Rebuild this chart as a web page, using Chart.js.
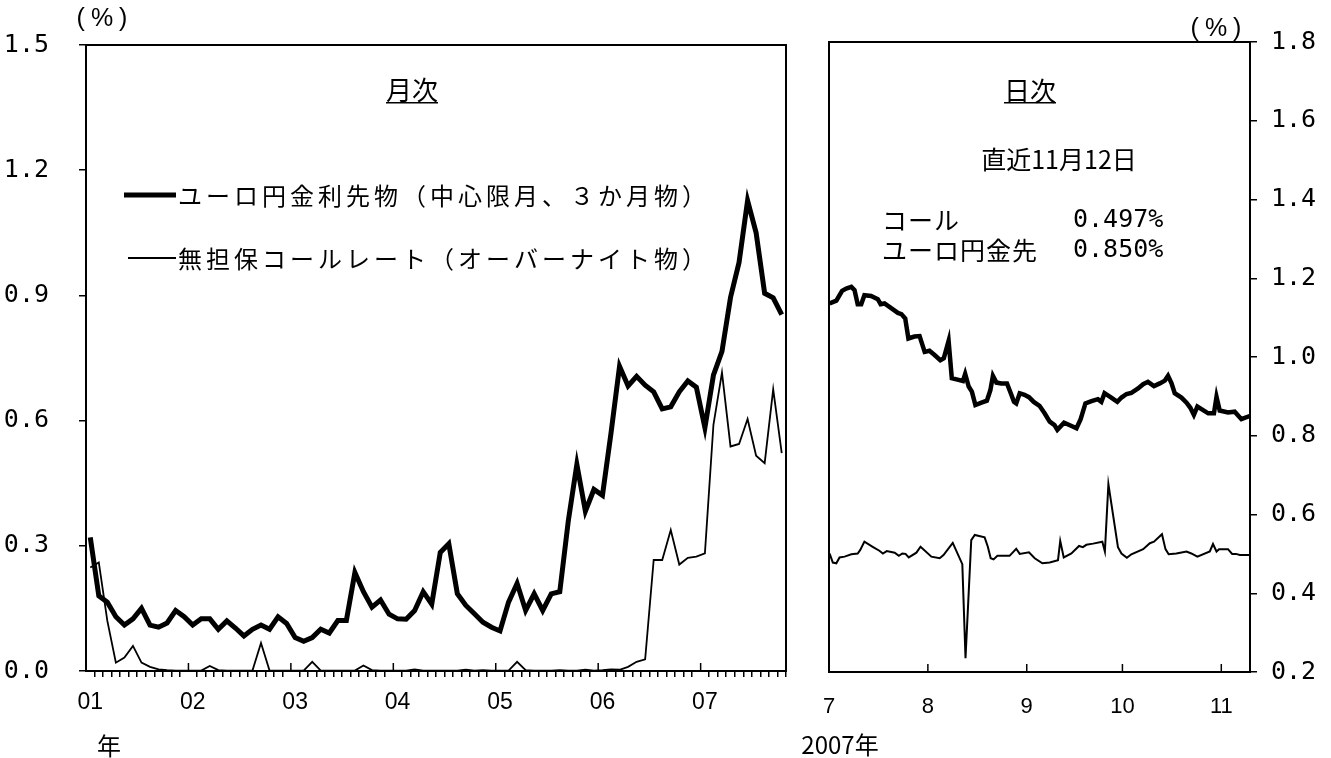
<!DOCTYPE html>
<html>
<head>
<meta charset="utf-8">
<script src="https://cdn.jsdelivr.net/npm/chart.js@4.4.1/dist/chart.umd.min.js"></script>
<style>
  html, body { margin: 0; padding: 0; background: #fff; }
  #wrap { position: relative; width: 1331px; height: 758px; }
  #left { position: absolute; left: 0; top: 0; }
  #right { position: absolute; left: 790px; top: 0; }
</style>
</head>
<body>
<div id="wrap">
  <canvas id="left" width="810" height="758"></canvas>
  <canvas id="right" width="541" height="758"></canvas>
</div>
<script>
// 月次（2001年1月～2007年10月）
const yearLabels = ['01', '02', '03', '04', '05', '06', '07'];
const euroyenMonthly = [
  0.32, 0.18, 0.165, 0.13, 0.11, 0.125, 0.15, 0.11, 0.105, 0.115, 0.145, 0.13,
  0.11, 0.125, 0.125, 0.10, 0.12, 0.103, 0.084, 0.10, 0.11, 0.10, 0.13, 0.114,
  0.08, 0.071, 0.08, 0.10, 0.091, 0.121, 0.121, 0.236, 0.19, 0.153, 0.17, 0.136,
  0.125, 0.124, 0.145, 0.19, 0.16, 0.284, 0.305, 0.185, 0.157, 0.137, 0.117, 0.105,
  0.096, 0.165, 0.21, 0.145, 0.185, 0.145, 0.185, 0.19, 0.36, 0.495, 0.383, 0.435,
  0.421, 0.57, 0.73, 0.683, 0.706, 0.685, 0.669, 0.628, 0.633, 0.669, 0.695, 0.68,
  0.583, 0.709, 0.766, 0.895, 0.979, 1.127, 1.05, 0.905, 0.894, 0.854
];
const callMonthly = [
  0.248, 0.26, 0.12, 0.02, 0.032, 0.06, 0.02, 0.01, 0.004, 0.002, 0.001, 0.001,
  0.001, 0.001, 0.012, 0.002, 0.001, 0.001, 0.001, 0.001, 0.067, 0.001, 0.001, 0.001,
  0.001, 0.001, 0.022, 0.001, 0.001, 0.001, 0.001, 0.001, 0.013, 0.002, 0.001, 0.001,
  0.001, 0.001, 0.004, 0.001, 0.001, 0.001, 0.001, 0.001, 0.003, 0.001, 0.002, 0.001,
  0.001, 0.001, 0.022, 0.002, 0.001, 0.001, 0.001, 0.002, 0.001, 0.001, 0.003, 0.001,
  0.002, 0.004, 0.003, 0.010, 0.022, 0.028, 0.266, 0.266, 0.338, 0.255, 0.271, 0.274,
  0.282, 0.59, 0.715, 0.538, 0.544, 0.604, 0.516, 0.498, 0.675, 0.522
];
const leftTicks = [0, 0.3, 0.6, 0.9, 1.2, 1.5];

// 日次（2007年7月～11月12日）：7月1日からの日数
const futDay = [0.2, 2.3, 4.1, 5.4, 7.0, 8.0, 9.0, 10.1, 11.1, 13.2, 15.3, 16.2, 17.4, 19.5, 21.6,
  22.7, 23.9, 24.9, 26.8, 28.4, 30.0, 31.5, 33.1, 34.9, 36.0, 37.5, 38.5, 40.6, 42.0, 42.7,
  43.8, 44.8, 45.9, 47.8, 49.5, 50.6, 51.4, 52.5, 54.0, 55.8, 57.0, 58.0, 58.7, 59.8, 61.3,
  62.7, 64.2, 66.0, 67.6, 69.2, 70.7, 71.6, 73.7, 75.7, 77.6, 78.9, 80.4, 82.3, 84.3, 85.4,
  86.4, 88.5, 90.4, 91.7, 93.3, 94.8, 96.9, 98.5, 100.0, 101.9, 103.7, 105.3, 106.3, 107.4, 108.4,
  110.5, 112.1, 113.3, 114.4, 115.5, 117.3, 118.9, 120.7, 121.5, 122.5, 125.1, 127.2, 129.3, 131.9];
const futDaily = [1.136, 1.143, 1.168, 1.174, 1.178, 1.17, 1.134, 1.134, 1.157, 1.155, 1.147, 1.134, 1.136, 1.124, 1.112,
  1.109, 1.098, 1.047, 1.052, 1.053, 1.013, 1.016, 1.005, 0.992, 0.997, 1.041, 0.946, 0.942, 0.939, 0.957,
  0.925, 0.912, 0.878, 0.884, 0.889, 0.916, 0.952, 0.935, 0.933, 0.933, 0.908, 0.886, 0.882, 0.908, 0.904,
  0.898, 0.886, 0.876, 0.857, 0.836, 0.827, 0.815, 0.833, 0.826, 0.819, 0.842, 0.882, 0.888, 0.893, 0.886,
  0.908, 0.897, 0.886, 0.897, 0.906, 0.909, 0.92, 0.931, 0.937, 0.926, 0.933, 0.94, 0.952, 0.933, 0.908,
  0.897, 0.884, 0.871, 0.853, 0.874, 0.865, 0.857, 0.857, 0.899, 0.864, 0.859, 0.861, 0.842, 0.85];
const callDay = [0.2, 1.2, 2.3, 3.3, 4.9, 7.0, 9.0, 9.8, 11.1, 13.7, 15.8, 16.9, 18.1, 20.6, 21.9,
  23.0, 24.0, 25.0, 27.4, 28.7, 32.1, 34.7, 35.9, 38.8, 41.8, 42.8, 44.6, 45.7, 48.8, 49.8,
  50.7, 51.6, 52.8, 56.6, 58.7, 59.8, 62.7, 64.5, 66.9, 69.2, 71.8, 72.5, 73.6, 76.0, 78.4,
  79.6, 80.7, 82.8, 85.7, 86.5, 87.6, 90.6, 91.7, 93.4, 94.8, 98.5, 100.6, 101.9, 104.4, 105.5,
  106.5, 108.9, 112.1, 113.6, 115.5, 119.4, 120.4, 121.5, 122.3, 125.1, 126.4, 127.6, 128.8, 131.9];
const callDaily = [0.501, 0.478, 0.476, 0.491, 0.493, 0.499, 0.501, 0.51, 0.531, 0.518, 0.508, 0.501, 0.507, 0.503, 0.495,
  0.501, 0.5, 0.491, 0.503, 0.518, 0.493, 0.489, 0.497, 0.528, 0.474, 0.235, 0.535, 0.548, 0.542, 0.518,
  0.489, 0.486, 0.495, 0.495, 0.513, 0.5, 0.504, 0.489, 0.476, 0.478, 0.484, 0.533, 0.491, 0.501, 0.52,
  0.517, 0.523, 0.526, 0.531, 0.506, 0.677, 0.517, 0.501, 0.49, 0.499, 0.512, 0.527, 0.531, 0.55, 0.512,
  0.499, 0.501, 0.506, 0.501, 0.493, 0.506, 0.525, 0.506, 0.512, 0.512, 0.5, 0.5, 0.497, 0.497];
const monthStartDay = [0, 31, 62, 92, 123];
const monthLabels = ['7', '8', '9', '10', '11'];

const JP = '"Noto Sans CJK JP", sans-serif';
const NUM = '"Liberation Sans", Arial, sans-serif';
const MONO = '"DejaVu Sans Mono", monospace';

// 月のカテゴリ（01年1月～07年10月）
const monthCats = [];
yearLabels.forEach(y => { for (let m = 1; m <= 12; m++) monthCats.push(y + '-' + m); });
monthCats.length = euroyenMonthly.length;

function text(ctx, s, x, y, font, align, spacing) {
  ctx.save();
  ctx.font = font;
  ctx.fillStyle = '#000';
  ctx.textAlign = align || 'left';
  ctx.textBaseline = 'middle';
  if (spacing) ctx.letterSpacing = spacing;
  ctx.fillText(s, x, y);
  const w = ctx.measureText(s).width;
  ctx.restore();
  return w;
}

const leftDeco = {
  id: 'leftDeco',
  afterDraw(chart) {
    const { ctx, chartArea: a, scales } = chart;
    const xs = scales.x;
    ctx.save();
    ctx.strokeStyle = '#000';
    ctx.lineWidth = 2;
    ctx.strokeRect(a.left, a.top, a.right - a.left, a.bottom - a.top);
    // 年の区切り（内向き）
    ctx.lineWidth = 1.5;
    for (let i = 12; i < monthCats.length; i += 12) {
      const x = (xs.getPixelForValue(i - 1) + xs.getPixelForValue(i)) / 2;
      ctx.beginPath();
      ctx.moveTo(x, a.bottom);
      ctx.lineTo(x, a.bottom - 8);
      ctx.stroke();
    }
    // 凡例
    const ds = chart.data.datasets;
    ctx.lineWidth = ds[0].borderWidth;
    ctx.beginPath(); ctx.moveTo(124, 195); ctx.lineTo(176, 195); ctx.stroke();
    ctx.lineWidth = ds[1].borderWidth;
    ctx.beginPath(); ctx.moveTo(128, 258); ctx.lineTo(176, 258); ctx.stroke();
    ctx.restore();
    text(ctx, ds[0].label, 178, 196, '24px ' + JP, 'left', '4px');
    text(ctx, ds[1].label, 178, 259, '24px ' + JP, 'left', '4px');
    // 見出し
    const w = text(ctx, '月次', 412, 90, '26px ' + JP, 'center');
    ctx.fillRect(412 - w / 2, 102, w, 1.5);
    text(ctx, '(%)', 105, 19, '25px ' + NUM, 'center', '6px');
    text(ctx, '年', 109, 746, '24px ' + JP, 'center');
  }
};

const rightDeco = {
  id: 'rightDeco',
  afterDraw(chart) {
    const { ctx, chartArea: a, scales } = chart;
    ctx.save();
    ctx.strokeStyle = '#000';
    ctx.lineWidth = 2;
    ctx.strokeRect(a.left, a.top, a.right - a.left, a.bottom - a.top);
    ctx.lineWidth = 1.5;
    scales.x.ticks.forEach(t => {
      const x = scales.x.getPixelForValue(t.value);
      ctx.beginPath();
      ctx.moveTo(x, a.bottom);
      ctx.lineTo(x, a.bottom - 8);
      ctx.stroke();
    });
    ctx.restore();
    const w = text(ctx, '日次', 240, 91, '26px ' + JP, 'center');
    ctx.fillRect(240 - w / 2, 102, w, 1.5);
    text(ctx, '直近11月12日', 269, 159, '25px ' + JP, 'center');
    text(ctx, 'コール', 92, 220, '25px ' + JP, 'left', '1px');
    text(ctx, 'ユーロ円金先', 92, 250, '25px ' + JP, 'left', '1px');
    text(ctx, '0.497%', 283, 220, '25px ' + MONO, 'left');
    text(ctx, '0.850%', 283, 250, '25px ' + MONO, 'left');
    text(ctx, '(%)', 429, 29, '25px ' + NUM, 'center', '6px');
    text(ctx, '2007年', 50, 745, '24px ' + JP, 'center');
  }
};

new Chart(document.getElementById('left'), {
  type: 'line',
  data: {
    labels: monthCats,
    datasets: [
      { label: 'ユーロ円金利先物（中心限月、３か月物）', data: euroyenMonthly,
        borderColor: '#000', borderWidth: 5, pointRadius: 0, tension: 0 },
      { label: '無担保コールレート（オーバーナイト物）', data: callMonthly,
        borderColor: '#000', borderWidth: 1.8, pointRadius: 0, tension: 0 }
    ]
  },
  options: {
    responsive: false,
    animation: false,
    layout: { padding: { top: 41, right: 24, left: 0, bottom: 0 } },
    plugins: { legend: { display: false }, tooltip: { enabled: false } },
    scales: {
      x: {
        offset: true,
        afterFit: s => { s.height = 87; },
        grid: {
          offset: true, drawOnChartArea: false, tickLength: 6, lineWidth: 1.5,
          color: c => (c.index % 12 === 0 ? 'rgba(0,0,0,0)' : '#000')
        },
        border: { color: '#000', width: 2 },
        ticks: {
          autoSkip: false, maxRotation: 0, minRotation: 0, padding: 12,
          color: '#000', font: { family: NUM, size: 23 },
          callback: (v, i) => (i % 12 === 0 ? yearLabels[i / 12] : '')
        }
      },
      y: {
        min: 0, max: 1.5,
        afterFit: s => { s.width = 86; },
        afterBuildTicks: s => { s.ticks = leftTicks.map(v => ({ value: v })); },
        grid: { drawOnChartArea: false, tickLength: 7, lineWidth: 1.5, color: '#000' },
        border: { color: '#000', width: 2 },
        ticks: {
          padding: 30, color: '#000', font: { family: MONO, size: 25 },
          callback: v => v.toFixed(1)
        }
      }
    }
  },
  plugins: [leftDeco]
});

new Chart(document.getElementById('right'), {
  type: 'line',
  data: {
    datasets: [
      { label: 'ユーロ円金先', data: futDay.map((d, i) => ({ x: d, y: futDaily[i] })),
        borderColor: '#000', borderWidth: 4.5, pointRadius: 0, tension: 0 },
      { label: 'コール', data: callDay.map((d, i) => ({ x: d, y: callDaily[i] })),
        borderColor: '#000', borderWidth: 2, pointRadius: 0, tension: 0 }
    ]
  },
  options: {
    responsive: false,
    animation: false,
    layout: { padding: { top: 42, right: 0, left: 39, bottom: 0 } },
    plugins: { legend: { display: false }, tooltip: { enabled: false } },
    scales: {
      x: {
        type: 'linear', min: 0, max: 132,
        afterFit: s => { s.height = 86; },
        afterBuildTicks: s => { s.ticks = monthStartDay.map(v => ({ value: v })); },
        grid: { drawOnChartArea: false, drawTicks: false },
        border: { color: '#000', width: 2 },
        ticks: {
          padding: 22, color: '#000', font: { family: NUM, size: 22 }, maxRotation: 0,
          callback: v => monthLabels[monthStartDay.indexOf(v)]
        }
      },
      y: {
        position: 'right', min: 0.2, max: 1.8,
        afterFit: s => { s.width = 81; },
        grid: { drawOnChartArea: false, tickLength: 7, lineWidth: 1.5, color: '#000' },
        border: { color: '#000', width: 2 },
        ticks: {
          stepSize: 0.2, padding: 14, color: '#000', font: { family: MONO, size: 25 },
          callback: v => v.toFixed(1)
        }
      }
    }
  },
  plugins: [rightDeco]
});
</script>
</body>
</html>
